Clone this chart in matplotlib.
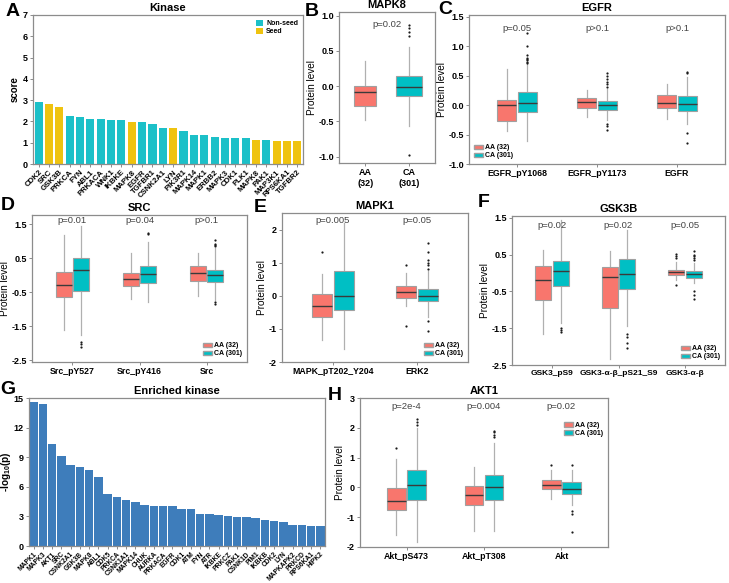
import matplotlib
matplotlib.use("Agg")
import matplotlib.pyplot as plt
from matplotlib.patches import Patch

plt.rcParams['font.family'] = ['Liberation Sans', 'DejaVu Sans']
plt.rcParams['mathtext.fontset'] = 'custom'
plt.rcParams['mathtext.rm'] = 'Liberation Sans'
plt.rcParams['mathtext.bf'] = 'Liberation Sans:bold'

# ---------------- data ----------------
# Panel A
A_kinases = ["CDK2", "SRC", "GSK3B", "PRKCA", "FYN", "ABL1", "PRKACA", "WNK1", "IKBKE",
             "MAPK8", "EGFR", "TGFBR1", "CSNK2A1", "LYN", "PIK3R1", "MAPK14", "MAPK1",
             "ERBB2", "MAPK3", "CDK1", "PLK1", "MAPK8", "PAK1", "MAP3K1", "RPS6KA1", "TGFBR2"]
A_scores = [2.89, 2.84, 2.67, 2.27, 2.20, 2.13, 2.11, 2.09, 2.05, 1.97, 1.95, 1.86, 1.70,
            1.67, 1.55, 1.38, 1.38, 1.25, 1.20, 1.20, 1.20, 1.15, 1.15, 1.10, 1.10, 1.10]
A_seed = [0, 1, 1, 0, 0, 0, 0, 0, 0, 1, 0, 0, 0, 1, 0, 0, 0, 0, 0, 0, 0, 1, 0, 1, 1, 1]

# Panel G
G_kinases = ["MAPK1", "MAPK3", "AKT1", "SRC", "CSNK2A1", "GSK3B", "MAPK8", "ABL1", "CDK5",
             "PRKCA", "CSNK1A1", "MAPK14", "CHUK", "AURKA", "PRKACA", "EGFR", "CDK1", "ATM",
             "FYN", "ATR", "IKBKE", "PRKCZ", "PAK1", "CSNK1D", "PIM1", "IKBKB", "CDK2", "LYN",
             "MAPKAPK2", "PRKCD", "RPS6KA1", "HIPK2"]
G_values = [14.59, 14.39, 10.33, 9.15, 8.24, 8.00, 7.73, 6.99, 5.30, 4.93, 4.66, 4.49, 4.19,
            4.09, 4.09, 4.09, 3.78, 3.75, 3.28, 3.21, 3.14, 3.07, 2.97, 2.97, 2.80, 2.60, 2.50,
            2.40, 2.16, 2.09, 2.06, 2.06]

# Box stats: [whisker low, q1, median, q3, whisker high]
B_labels = ["AA\n(32)", "CA\n(301)"]
B_stats = [[-0.48, -0.28, -0.09, 0.0, 0.35], [-0.56, -0.14, -0.01, 0.15, 0.56]]
B_out = [[], [0.87, 0.82, 0.76, 0.71, -0.98]]
B_p = "p=0.02"

C_groups = ["EGFR_pY1068", "EGFR_pY1173", "EGFR"]
C_AA = [[-0.44, -0.27, 0.01, 0.09, 0.61], [-0.20, -0.05, 0.05, 0.12, 0.26], [-0.24, -0.05, 0.03, 0.17, 0.36]]
C_CA = [[-0.61, -0.11, 0.04, 0.23, 0.70], [-0.25, -0.08, 0.00, 0.07, 0.27], [-0.32, -0.10, 0.02, 0.15, 0.47]]
C_AA_out = [[], [], []]
C_CA_out = [[0.72, 0.74, 0.76, 0.78, 0.80, 0.85, 1.01, 1.22],
            [0.30, 0.35, 0.40, 0.45, 0.50, 0.55, -0.32, -0.36, -0.43],
            [0.57, 0.55, -0.47, -0.64]]
C_p = ["p=0.05", "p>0.1", "p>0.1"]

D_groups = ["Src_pY527", "Src_pY416", "Src"]
D_AA = [[-1.60, -0.65, -0.30, 0.09, 1.18], [-0.70, -0.31, -0.12, 0.08, 0.65], [-0.60, -0.17, 0.08, 0.27, 0.65]]
D_CA = [[-1.75, -0.45, 0.14, 0.50, 1.45], [-0.80, -0.22, 0.04, 0.27, 0.99], [-0.72, -0.19, 0.00, 0.16, 0.80]]
D_AA_out = [[], [], []]
D_CA_out = [[-1.95, -2.02, -2.10], [1.20, 1.25], [1.04, 0.93, 0.88, 0.85, -0.80, -0.85]]
D_p = ["p=0.01", "p=0.04", "p>0.1"]

E_groups = ["MAPK_pT202_Y204", "ERK2"]
E_AA = [[-1.35, -0.65, -0.31, 0.06, 0.65], [-0.30, -0.08, 0.12, 0.30, 0.68]]
E_CA = [[-1.60, -0.43, 0.00, 0.74, 2.20], [-0.63, -0.15, 0.00, 0.20, 0.75]]
E_AA_out = [[1.33], [0.92, -0.90]]
E_CA_out = [[], [1.60, 1.33, 1.08, 1.00, 0.92, 0.82, -0.75, -1.05]]
E_p = ["p=0.005", "p=0.05"]

F_groups = ["GSK3_pS9", "GSK3-α-β_pS21_S9", "GSK3-α-β"]
F_AA = [[-1.67, -0.72, -0.18, 0.20, 0.63], [-2.33, -0.95, -0.11, 0.16, 0.59], [-0.18, -0.05, 0.03, 0.09, 0.30]]
F_CA = [[-1.36, -0.36, 0.06, 0.34, 1.45], [-1.45, -0.43, -0.02, 0.38, 1.18], [-0.28, -0.13, -0.03, 0.05, 0.27]]
F_AA_out = [[], [], [0.53, 0.45, 0.40, -0.32]]
F_CA_out = [[-1.50, -1.55, -1.60], [-1.65, -1.75, -1.90, -2.05],
            [0.60, 0.50, 0.45, 0.40, 0.35, -0.50, -0.60, -0.70]]
F_p = ["p=0.02", "p=0.02", "p=0.05"]

H_groups = ["Akt_pS473", "Akt_pT308", "Akt"]
H_AA = [[-1.60, -0.75, -0.45, -0.01, 0.95], [-1.47, -0.59, -0.24, 0.05, 0.70], [-0.40, -0.06, 0.09, 0.25, 0.59]]
H_CA = [[-1.84, -0.43, 0.07, 0.59, 2.00], [-1.47, -0.41, 0.00, 0.43, 1.49], [-0.60, -0.21, -0.05, 0.17, 0.60]]
H_AA_out = [[1.32], [], [0.75]]
H_CA_out = [[2.10, 2.20, 2.30], [1.70, 1.75, 1.85, 1.90], [0.75, -0.80, -0.88, -1.50]]
H_p = ["p=2e-4", "p=0.004", "p=0.02"]

# ---------------- style ----------------
W, H = 729, 583
fig = plt.figure(figsize=(7.29, 5.83), dpi=100)

AA_COL = '#F8766D'
CA_COL = '#00BFC4'
NONSEED = '#1CC0C8'
SEED = '#EFC30F'
GBAR = '#3E7DBB'
SPINE = '#8c8c8c'


def add_ax(l, t, r, b):
    return fig.add_axes([l / W, 1 - b / H, (r - l) / W, (b - t) / H])


def style(ax, xsize=6.5, ysize=6.5):
    for s in ax.spines.values():
        s.set_color(SPINE)
        s.set_linewidth(0.9)
    ax.tick_params(axis='both', length=2.5, width=0.7, color=SPINE, pad=1.2)
    ax.tick_params(axis='x', labelsize=xsize)
    ax.tick_params(axis='y', labelsize=ysize)
    for lab in ax.get_xticklabels() + ax.get_yticklabels():
        lab.set_fontweight('bold')


def draw_boxes(ax, positions, stats, outs, color, width):
    st = []
    for (lo, q1, med, q3, hi), fl in zip(stats, outs):
        st.append(dict(whislo=lo, q1=q1, med=med, q3=q3, whishi=hi, fliers=fl))
    ax.bxp(st, positions=positions, widths=width, patch_artist=True, showcaps=False,
           manage_ticks=False,
           boxprops=dict(facecolor=color, edgecolor='#a0a0a0', linewidth=0.8, zorder=3),
           medianprops=dict(color='#3a3a3a', linewidth=1.0, zorder=4),
           whiskerprops=dict(color='#b0b0b0', linewidth=0.9, zorder=2),
           flierprops=dict(marker='o', markersize=1.6, markerfacecolor='#1a1a1a',
                           markeredgecolor='none', zorder=5))


def box_legend(ax, loc, anchor=None):
    h = [Patch(facecolor=AA_COL, edgecolor='#a0a0a0', label='AA (32)'),
         Patch(facecolor=CA_COL, edgecolor='#a0a0a0', label='CA (301)')]
    kw = dict(handles=h, loc=loc, frameon=False, prop=dict(size=5, weight='bold'),
              handlelength=1.3, handleheight=0.7, labelspacing=0.15, borderaxespad=0.25,
              handletextpad=0.4)
    if anchor is not None:
        kw['bbox_to_anchor'] = anchor
    ax.legend(**kw)


def grouped_panel(rect, title, groups, aa, ca, aa_out, ca_out, pvals, ylim, yticks, ytl,
                  py, legloc, xsize=6.3, anchor=None):
    ax = add_ax(*rect)
    n = len(groups)
    xs = list(range(1, n + 1))
    off, w = 0.13, 0.24
    draw_boxes(ax, [x - off for x in xs], aa, aa_out, AA_COL, w)
    draw_boxes(ax, [x + off for x in xs], ca, ca_out, CA_COL, w)
    for x, p in zip(xs, pvals):
        ax.text(x, py, p, ha='center', va='center', fontsize=6.8, color='#444444')
    ax.set_xlim(0.4, n + 0.6)
    ax.set_ylim(*ylim)
    ax.set_xticks(xs)
    ax.set_xticklabels(groups)
    ax.set_yticks(yticks)
    ax.set_yticklabels(ytl)
    ax.set_ylabel('Protein level', fontsize=7.2, labelpad=1)
    ax.set_title(title, fontsize=8, fontweight='bold', pad=3)
    style(ax, xsize=xsize)
    box_legend(ax, legloc, anchor)
    return ax


# ---------------- Panel A ----------------
axA = add_ax(33, 15, 303, 164)
xa = list(range(len(A_kinases)))
axA.bar(xa, A_scores, width=0.78, color=[SEED if s else NONSEED for s in A_seed], zorder=2)
axA.set_xlim(-0.55, len(A_kinases) - 0.45)
axA.set_ylim(0, 7)
axA.set_yticks(range(0, 8))
axA.set_xticks(xa)
axA.set_xticklabels(A_kinases, rotation=45, ha='right', rotation_mode='anchor')
axA.set_ylabel('score', fontsize=7, fontweight='bold', labelpad=2)
axA.set_title('Kinase', fontsize=8, fontweight='bold', pad=3)
style(axA, xsize=5.6, ysize=6.5)
axA.tick_params(axis='x', pad=1)
axA.legend(handles=[Patch(facecolor=NONSEED, label='Non-seed'), Patch(facecolor=SEED, label='Seed')],
           loc='upper right', frameon=False, prop=dict(size=5, weight='bold'),
           handlelength=1.0, handleheight=0.9, labelspacing=0.1, borderaxespad=0.3,
           handletextpad=0.4)

# ---------------- Panel B ----------------
axB = add_ax(339, 12, 435, 163)
draw_boxes(axB, [1], [B_stats[0]], [B_out[0]], AA_COL, 0.5)
draw_boxes(axB, [2], [B_stats[1]], [B_out[1]], CA_COL, 0.6)
axB.text(1.5, 0.87, B_p, ha='center', va='center', fontsize=6.8, color='#444444')
axB.set_xlim(0.4, 2.6)
axB.set_ylim(-1.09, 1.05)
axB.set_xticks([1, 2])
axB.set_xticklabels(B_labels)
axB.set_yticks([-1.0, -0.5, 0.0, 0.5, 1.0])
axB.set_yticklabels(['-1.0', '-0.5', '0.0', '0.5', '1.0'])
axB.set_ylabel('Protein level', fontsize=7.2, labelpad=1)
axB.set_title('MAPK8', fontsize=8, fontweight='bold', pad=3)
style(axB)

# ---------------- Panels C-F, H ----------------
grouped_panel((469, 15, 725, 164), 'EGFR', C_groups, C_AA, C_CA, C_AA_out, C_CA_out, C_p,
              (-1.0, 1.53), [-1.0, -0.5, 0.0, 0.5, 1.0, 1.5],
              ['-1.0', '-0.5', '0.0', '0.5', '1.0', '1.5'], 1.3, 'lower left')
grouped_panel((32, 215, 247, 362), 'SRC', D_groups, D_AA, D_CA, D_AA_out, D_CA_out, D_p,
              (-2.55, 1.77), [-2.5, -1.5, -0.5, 0.5, 1.5],
              ['-2.5', '-1.5', '-0.5', '0.5', '1.5'], 1.6, 'lower right')
grouped_panel((282, 213, 468, 362), 'MAPK1', E_groups, E_AA, E_CA, E_AA_out, E_CA_out, E_p,
              (-2.0, 2.5), [-2, -1, 0, 1, 2], ['-2', '-1', '0', '1', '2'], 2.28, 'lower right')
grouped_panel((512, 216, 725, 365), 'GSK3B', F_groups, F_AA, F_CA, F_AA_out, F_CA_out, F_p,
              (-2.5, 1.55), [-2.5, -1.5, -0.5, 0.5, 1.5],
              ['-2.5', '-1.5', '-0.5', '0.5', '1.5'], 1.28, 'lower right', xsize=6.0)
grouped_panel((360, 398, 608, 547), 'AKT1', H_groups, H_AA, H_CA, H_AA_out, H_CA_out, H_p,
              (-2.0, 3.0), [-2, -1, 0, 1, 2, 3], ['-2', '-1', '0', '1', '2', '3'], 2.7,
              'upper right', anchor=(1.0, 0.87))

# ---------------- Panel G ----------------
axG = add_ax(29, 398, 325, 546)
xg = list(range(len(G_kinases)))
axG.bar(xg, G_values, width=0.92, color=GBAR, zorder=2)
axG.set_xlim(-0.5, len(G_kinases) - 0.5)
axG.set_ylim(0, 15)
axG.set_yticks([0, 3, 6, 9, 12, 15])
axG.set_xticks(xg)
axG.set_xticklabels(G_kinases, rotation=45, ha='right', rotation_mode='anchor')
axG.set_ylabel(r'-log$_{\mathbf{10}}$(p)', fontsize=7.2, fontweight='bold', labelpad=0.5)
axG.set_title('Enriched kinase', fontsize=8, fontweight='bold', pad=3)
style(axG, xsize=4.8, ysize=6.5)
axG.tick_params(axis='x', pad=1)

# ---------------- Panel letters ----------------
letters = [("A", 6, 3), ("B", 305, 3), ("C", 438, 1), ("D", 1, 197), ("E", 254, 199),
           ("F", 478, 194), ("G", 0, 381), ("H", 328, 387)]
for t, x, y in letters:
    fig.text(x / W, 1 - y / H, t, fontsize=14, fontweight='bold', ha='left', va='top')

fig.savefig('out.png', dpi=100)
